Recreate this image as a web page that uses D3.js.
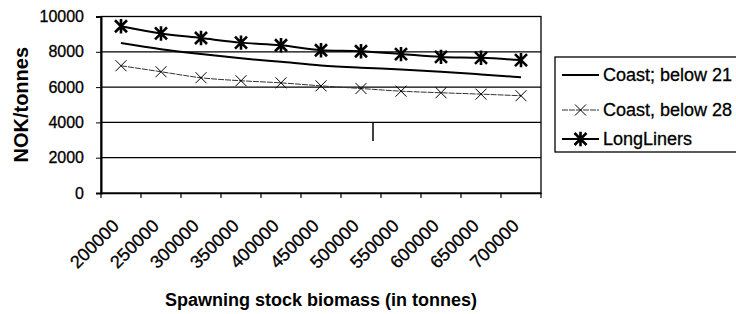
<!DOCTYPE html>
<html>
<head>
<meta charset="utf-8">
<script src="https://cdn.jsdelivr.net/npm/d3@7"></script>
<style>
  body { margin: 0; background: #fff; }
  text { font-family: "Liberation Sans", Arial, sans-serif; fill: #000; }
</style>
</head>
<body>
<div id="chart"></div>
<script>
// chart data
const categories = [200000, 250000, 300000, 350000, 400000, 450000, 500000, 550000, 600000, 650000, 700000];
const coast21 = [8500, 8150, 7870, 7630, 7430, 7230, 7100, 7000, 6870, 6720, 6560];
const coast28 = [7210, 6870, 6530, 6360, 6240, 6070, 5920, 5770, 5680, 5600, 5510];
const longLiners = [9450, 9040, 8780, 8520, 8370, 8090, 8030, 7870, 7710, 7660, 7530];
const yTicks = [0, 2000, 4000, 6000, 8000, 10000];

const width = 736, height = 314;
const plot = { left: 101, right: 541, top: 16.5, bottom: 193 };

const svg = d3.select("#chart").append("svg")
    .attr("width", width)
    .attr("height", height);

const x = d3.scaleBand()
    .domain(categories)
    .range([plot.left, plot.right]);

const y = d3.scaleLinear()
    .domain([0, 10000])
    .range([plot.bottom, plot.top]);

const cx = d => x(d) + x.bandwidth() / 2;

// gridlines
svg.append("g")
    .selectAll("line")
    .data(yTicks.filter(t => t > 0))
    .join("line")
    .attr("x1", plot.left).attr("x2", plot.right)
    .attr("y1", d => y(d)).attr("y2", d => y(d))
    .style("stroke", "#000")
    .style("stroke-width", 1.2);

// plot frame
svg.append("rect")
    .attr("x", plot.left).attr("y", plot.top)
    .attr("width", plot.right - plot.left)
    .attr("height", plot.bottom - plot.top)
    .style("fill", "none")
    .style("stroke", "#000")
    .style("stroke-width", 1.3);

// y axis
const yAxis = svg.append("g")
    .attr("transform", `translate(${plot.left},0)`)
    .call(d3.axisLeft(y).tickValues(yTicks).tickSize(5).tickPadding(12).tickFormat(d3.format("d")));
yAxis.select(".domain").style("stroke", "#000").style("stroke-width", 2);
yAxis.selectAll("text")
    .style("font-size", "16px")
    .style("font-family", "'Liberation Sans', Arial, sans-serif")
    .style("stroke", "#000")
    .style("stroke-width", 0.3);

// x axis
const xAxis = svg.append("g")
    .attr("transform", `translate(0,${plot.bottom})`)
    .call(d3.axisBottom(x).tickSize(0).tickFormat(d3.format("d")));
xAxis.select(".domain").style("stroke", "#000").style("stroke-width", 1.5);
xAxis.selectAll("text")
    .style("font-size", "18px")
    .style("font-family", "'Liberation Sans', Arial, sans-serif")
    .style("stroke", "#000")
    .style("stroke-width", 0.3)
    .attr("text-anchor", "end")
    .attr("dy", 0)
    .attr("y", 0)
    .attr("transform", "translate(-1,34) rotate(-45)");

// band boundary ticks
const bounds = categories.map(c => x(c)).concat([plot.right]);
svg.append("g")
    .selectAll("line")
    .data(bounds)
    .join("line")
    .attr("x1", d => d).attr("x2", d => d)
    .attr("y1", plot.bottom).attr("y2", plot.bottom + 5)
    .style("stroke", "#000")
    .style("stroke-width", 1.2);

// stray mark from the scan
svg.append("line")
    .attr("x1", x(500000) + x.bandwidth() * 0.8)
    .attr("x2", x(500000) + x.bandwidth() * 0.8)
    .attr("y1", y(4000))
    .attr("y2", y(2950))
    .style("stroke", "#000")
    .style("stroke-width", 1.5);

const line = d3.line()
    .x((d, i) => cx(categories[i]))
    .y(d => y(d))
    .curve(d3.curveMonotoneX);

// series
svg.append("path")
    .attr("d", line(coast28))
    .style("fill", "none")
    .style("stroke", "#333")
    .style("stroke-width", 1)
    .style("stroke-dasharray", "6,1");

svg.append("path")
    .attr("d", line(coast21))
    .style("fill", "none")
    .style("stroke", "#000")
    .style("stroke-width", 2);

svg.append("path")
    .attr("d", line(longLiners))
    .style("fill", "none")
    .style("stroke", "#000")
    .style("stroke-width", 2);

const crossPath = s => `M${-s},${-s}L${s},${s}M${-s},${s}L${s},${-s}`;
const starPath = s => crossPath(s) + `M0,${-s * 1.2}L0,${s * 1.2}`;

svg.append("g")
    .selectAll("path")
    .data(coast28)
    .join("path")
    .attr("transform", (d, i) => `translate(${cx(categories[i])},${y(d)})`)
    .attr("d", crossPath(5.5))
    .style("stroke", "#000")
    .style("stroke-width", 1);

svg.append("g")
    .selectAll("path")
    .data(longLiners)
    .join("path")
    .attr("transform", (d, i) => `translate(${cx(categories[i])},${y(d)})`)
    .attr("d", starPath(6))
    .style("stroke", "#000")
    .style("stroke-width", 2.6);

// axis titles
svg.append("text")
    .attr("x", (plot.left + plot.right) / 2)
    .attr("y", 306)
    .attr("text-anchor", "middle")
    .style("font-size", "18px")
    .style("font-weight", "bold")
    .text("Spawning stock biomass (in tonnes)");

svg.append("text")
    .attr("transform", `translate(28,${(plot.top + plot.bottom) / 2}) rotate(-90)`)
    .attr("text-anchor", "middle")
    .style("font-size", "20px")
    .style("font-weight", "bold")
    .text("NOK/tonnes");

// legend
const legend = svg.append("g");
legend.append("rect")
    .attr("x", 555).attr("y", 57)
    .attr("width", 200).attr("height", 95)
    .style("fill", "#fff")
    .style("stroke", "#000")
    .style("stroke-width", 1.3);

const legendItems = [
    { name: "Coast; below 21", marker: null, width: 2, color: "#000", dash: null },
    { name: "Coast, below 28", marker: "cross", width: 1, color: "#333", dash: "6,1" },
    { name: "LongLiners", marker: "star", width: 2, color: "#000", dash: null }
];
const legendY = [75, 110, 139];

legendItems.forEach((item, i) => {
    const g = legend.append("g").attr("transform", `translate(0,${legendY[i]})`);
    g.append("line")
        .attr("x1", 562).attr("x2", 599)
        .style("stroke", item.color)
        .style("stroke-width", item.width)
        .style("stroke-dasharray", item.dash);
    if (item.marker === "cross") {
        g.append("path")
            .attr("transform", "translate(580.5,0)")
            .attr("d", crossPath(5.5))
            .style("stroke", "#000")
            .style("stroke-width", 1);
    } else if (item.marker === "star") {
        g.append("path")
            .attr("transform", "translate(580.5,0)")
            .attr("d", starPath(6))
            .style("stroke", "#000")
            .style("stroke-width", 2.6);
    }
    g.append("text")
        .attr("x", 603)
        .attr("dy", "0.35em")
        .style("font-size", "18px")
        .style("stroke", "#000")
        .style("stroke-width", 0.3)
        .text(item.name);
});
</script>
</body>
</html>
